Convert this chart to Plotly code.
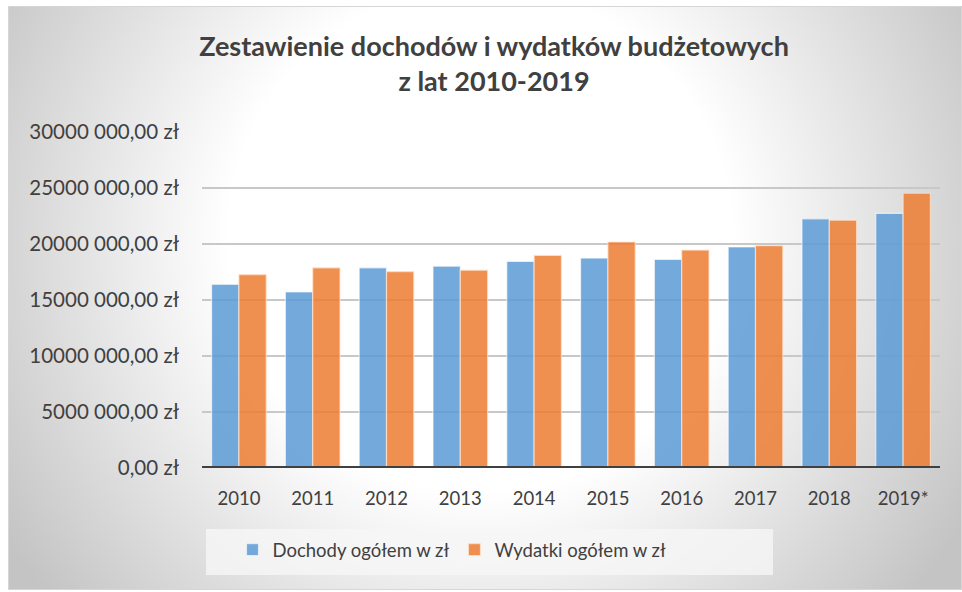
import plotly.graph_objects as go
import base64

years = ["2010", "2011", "2012", "2013", "2014", "2015", "2016", "2017", "2018", "2019*"]
dochody = [16400000, 15720000, 17870000, 18020000, 18440000, 18740000, 18620000, 19730000, 22250000, 22730000]
wydatki = [17270000, 17870000, 17540000, 17660000, 18980000, 20180000, 19460000, 19850000, 22130000, 24530000]
tick_vals = [0, 5000000, 10000000, 15000000, 20000000, 25000000, 30000000]
tick_text = ["0,00 zł", "5000 000,00 zł", "10000 000,00 zł", "15000 000,00 zł",
             "20000 000,00 zł", "25000 000,00 zł", "30000 000,00 zł"]

W, H = 962, 592
L, R, T, B = 202, 22, 132, 124
pw, ph = W - L - R, H - T - B

def px(x):
    return (x - L) / pw

def py(y):
    return (H - B - y) / ph

svg = (
    '<svg xmlns="http://www.w3.org/2000/svg" width="954" height="584" viewBox="0 0 954 584">'
    '<defs><radialGradient id="g" cx="472" cy="234" r="560" gradientUnits="userSpaceOnUse">'
    '<stop offset="0" stop-color="#ffffff"/><stop offset="0.45" stop-color="#ffffff"/>'
    '<stop offset="1" stop-color="#c4c4c4"/></radialGradient></defs>'
    '<rect x="0" y="0" width="954" height="584" fill="url(#g)" stroke="#d6d6d6" stroke-width="2"/></svg>'
)
src = "data:image/svg+xml;base64," + base64.b64encode(svg.encode()).decode()

fig = go.Figure()
fig.add_trace(go.Bar(
    x=years, y=dochody, name="Dochody ogółem w zł",
    marker=dict(color="rgba(91,155,213,0.85)", line=dict(color="rgba(255,255,255,0.6)", width=1.2)),
))
fig.add_trace(go.Bar(
    x=years, y=wydatki, name="Wydatki ogółem w zł",
    marker=dict(color="rgba(237,125,49,0.85)", line=dict(color="rgba(255,230,210,0.7)", width=1.2)),
))

fig.add_layout_image(dict(
    source=src, xref="paper", yref="paper",
    x=px(8), y=py(6), sizex=px(962) - px(8), sizey=py(6) - py(590),
    xanchor="left", yanchor="top", sizing="stretch", layer="below",
))

fig.update_layout(
    width=W, height=H,
    margin=dict(l=L, r=R, t=T, b=B, pad=0, autoexpand=False),
    paper_bgcolor="white",
    plot_bgcolor="rgba(0,0,0,0)",
    barmode="group",
    bargap=0.26,
    bargroupgap=0.0,
    font=dict(family="Lato, 'Open Sans', sans-serif", color="#404040"),
    title=dict(
        text="<b>Zestawienie dochodów i wydatków budżetowych<br>z lat 2010-2019</b>",
        xref="container", x=494 / W, xanchor="center",
        yref="container", y=1 - 56 / H, yanchor="top",
        font=dict(size=27, color="#404040"),
    ),
    xaxis=dict(
        showgrid=False, ticks="", showline=False,
        tickfont=dict(size=18.5, color="#404040"),
        ticklabelstandoff=17,
    ),
    yaxis=dict(
        range=[0, 30000000], tickvals=tick_vals, ticktext=tick_text,
        showgrid=True, gridcolor="#c8c8c8", gridwidth=1.5,
        zeroline=False, showline=False, ticks="",
        tickfont=dict(size=20.5, color="#404040"),
        ticklabelstandoff=22,
    ),
    legend=dict(
        orientation="h", x=px(452), xanchor="center", y=py(531), yanchor="top",
        bgcolor="rgba(0,0,0,0)", font=dict(size=18.5, color="#404040"),
        itemwidth=30, traceorder="normal",
    ),
    shapes=[
        dict(type="rect", xref="paper", yref="paper", x0=px(206), x1=px(773), y0=py(529), y1=py(575),
             fillcolor="rgba(246,246,246,0.8)", line=dict(width=0), layer="below"),
        dict(type="line", xref="paper", yref="y", x0=0, x1=1, y0=0, y1=0,
             line=dict(color="#404040", width=4), layer="above"),
    ],
)

fig.write_html(
    "out.html",
    config={"displayModeBar": False},
    post_script="document.body.style.margin='0';document.body.style.overflow='hidden';",
)
